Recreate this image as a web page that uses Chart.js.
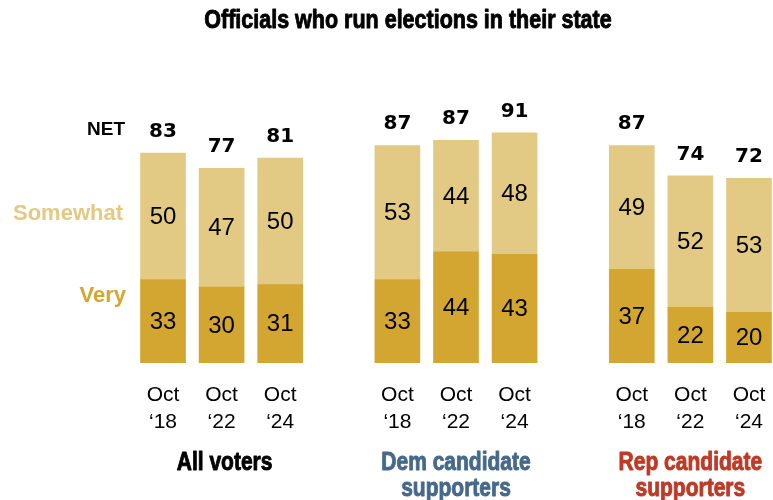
<!DOCTYPE html>
<html>
<head>
<meta charset="utf-8">
<script src="https://cdn.jsdelivr.net/npm/chart.js@4/dist/chart.umd.min.js"></script>
<style>
  html, body { margin: 0; padding: 0; background: #ffffff; }
  #wrap { width: 773px; height: 500px; position: relative; }
</style>
</head>
<body>
<div id="wrap"><canvas id="chart" width="773" height="500"></canvas></div>
<script>
// Trust in officials who run elections, by survey wave and group
const titleText = 'Officials who run elections in their state';
const groupLabels = [['All voters'], ['Dem candidate', 'supporters'], ['Rep candidate', 'supporters']];
const periodLabels = [['Oct', '\u201818'], ['Oct', '\u201822'], ['Oct', '\u201824']];
const veryValues = [33, 30, 31, 33, 44, 43, 37, 22, 20];
const somewhatValues = [50, 47, 50, 53, 44, 48, 49, 52, 53];
const netValues = [83, 77, 81, 87, 87, 91, 87, 74, 72];

const VERY_COLOR = '#d2a630';
const SOMEWHAT_COLOR = '#e2ca85';
const GROUP_COLORS = ['#000000', '#46698a', '#bf3927'];
const SANS = '"Liberation Sans", Arial, sans-serif';

// each group of three bars is followed by an empty slot
const slotOf = i => Math.floor(i / 3) * 4 + (i % 3);
const toPoints = arr => arr.map((v, i) => ({ x: slotOf(i), y: v }));

// heavy condensed text: bold face squeezed horizontally, with a thin outline for weight
function condensedText(ctx, text, x, y, squeeze) {
  ctx.save();
  ctx.translate(x, y);
  ctx.scale(squeeze, 1);
  ctx.strokeStyle = ctx.fillStyle;
  ctx.lineWidth = 0.9;
  ctx.lineJoin = 'round';
  ctx.strokeText(text, 0, 0);
  ctx.fillText(text, 0, 0);
  ctx.restore();
}

const labelPlugin = {
  id: 'labels',
  afterDatasetsDraw(chart) {
    const { ctx, scales } = chart;
    const xs = scales.x;
    const veryMeta = chart.getDatasetMeta(0);
    const someMeta = chart.getDatasetMeta(1);
    ctx.save();

    // title
    ctx.fillStyle = '#000';
    ctx.textAlign = 'center';
    ctx.textBaseline = 'alphabetic';
    ctx.font = 'bold 25px ' + SANS;
    condensedText(ctx, titleText, 408, 28, 0.86);

    // values inside segments
    ctx.font = '24px ' + SANS;
    ctx.textBaseline = 'middle';
    [veryMeta, someMeta].forEach((meta, d) => {
      const vals = d === 0 ? veryValues : somewhatValues;
      meta.data.forEach((bar, i) => {
        const mid = (bar.y + bar.base) / 2;
        ctx.fillText(String(vals[i]), bar.x, mid + 1);
      });
    });

    // NET totals above bars
    ctx.font = 'bold 20px "DejaVu Sans", sans-serif';
    ctx.textBaseline = 'alphabetic';
    someMeta.data.forEach((bar, i) => {
      ctx.fillText(String(netValues[i]), bar.x, bar.y - 16);
    });

    // row labels at the left
    ctx.textAlign = 'right';
    ctx.font = 'bold 19px ' + SANS;
    ctx.fillStyle = '#000';
    ctx.fillText('NET', 125, 135);
    ctx.font = 'bold 22px ' + SANS;
    ctx.fillStyle = SOMEWHAT_COLOR;
    ctx.fillText('Somewhat', 123, 220);
    ctx.fillStyle = VERY_COLOR;
    ctx.fillText('Very', 126, 302);

    // period tick labels
    ctx.textAlign = 'center';
    ctx.fillStyle = '#000';
    ctx.font = '21px ' + SANS;
    veryMeta.data.forEach((bar, i) => {
      const lines = periodLabels[i % 3];
      ctx.fillText(lines[0], bar.x, 401);
      ctx.fillText(lines[1], bar.x, 428);
    });

    // group labels
    ctx.font = 'bold 25px ' + SANS;
    groupLabels.forEach((lines, g) => {
      const cx = xs.getPixelForValue(g * 4 + 1);
      ctx.fillStyle = GROUP_COLORS[g];
      lines.forEach((ln, k) => condensedText(ctx, ln, cx + (g === 0 ? 3 : 0), 470 + k * 26, 0.84));
    });

    ctx.restore();
  }
};

new Chart(document.getElementById('chart'), {
  type: 'bar',
  data: {
    datasets: [
      { label: 'Very', data: toPoints(veryValues), backgroundColor: VERY_COLOR, stack: 'all', borderWidth: 0 },
      { label: 'Somewhat', data: toPoints(somewhatValues), backgroundColor: SOMEWHAT_COLOR, stack: 'all', borderWidth: 0 }
    ]
  },
  options: {
    responsive: false,
    animation: false,
    events: [],
    barThickness: 45,
    layout: { padding: { left: 133.7, right: 0, top: 40, bottom: 137 } },
    plugins: { legend: { display: false }, title: { display: false }, tooltip: { enabled: false } },
    scales: {
      x: { type: 'linear', offset: false, min: -0.5, max: 10.41, display: false, grid: { display: false } },
      y: { stacked: true, min: 0, max: 127.7, display: false, grid: { display: false } }
    }
  },
  plugins: [labelPlugin]
});
</script>
</body>
</html>
